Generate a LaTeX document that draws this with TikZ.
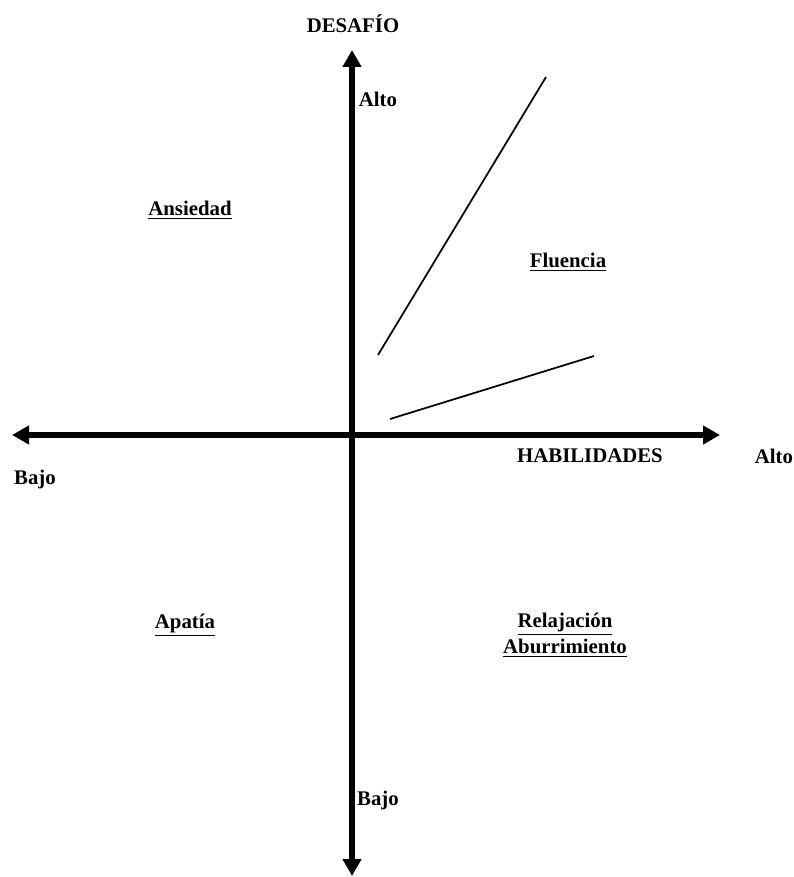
\documentclass[tikz,border=0pt]{standalone}
\usepackage{fontspec}
\setmainfont{Liberation Serif}
\usetikzlibrary{arrows.meta,positioning}

\begin{document}
\begin{tikzpicture}[
      x=0.75pt, y=-0.75pt,
      every node/.style={font=\fontsize{15.6}{19.5}\selectfont\bfseries, inner sep=1pt},
      axis/.style={line width=3.8pt, {Triangle[length=12.75pt,width=13.5pt]}-{Triangle[length=12.75pt,width=13.5pt]}},
      border/.style={line width=1.3pt},
      zone/.style={align=center}
    ]
    \useasboundingbox (0,0) rectangle (793,877);
    % axes
    \coordinate (ytop) at (352,50);
    \coordinate (ybot) at (352,876);
    \coordinate (xleft) at (12,435);
    \coordinate (xright) at (720,435);
    \draw[axis] (ybot) -- (ytop);
    \draw[axis] (xleft) -- (xright);
    % axis labels
    \node (desafio) at (353,24) {DESAFÍO};
    \node (altoy) at (378,99) {Alto};
    \node (bajoy) at (378,800) {Bajo};
    \node (habil) at (590,456) {HABILIDADES};
    \node (altox) at (774,456) {Alto};
    \node (bajox) at (35,479) {Bajo};
    % channel borders
    \coordinate (u1) at (378,355);
    \coordinate (u2) at (546,77);
    \coordinate (l1) at (390,419);
    \coordinate (l2) at (594,356);
    \draw[border] (u1) -- (u2);
    \draw[border] (l1) -- (l2);
    % zones
    \node[zone] (ansiedad) at (190,210) {\underline{Ansiedad}};
    \node[zone] (fluencia) at (568,262) {\underline{Fluencia}};
    \node[zone] (apatia) at (185,625) {\underline{Apatía}};
    \node[zone] (relaj) at (565,635) {\underline{Relajación}\\\underline{Aburrimiento}};
  \end{tikzpicture}
\end{document}
